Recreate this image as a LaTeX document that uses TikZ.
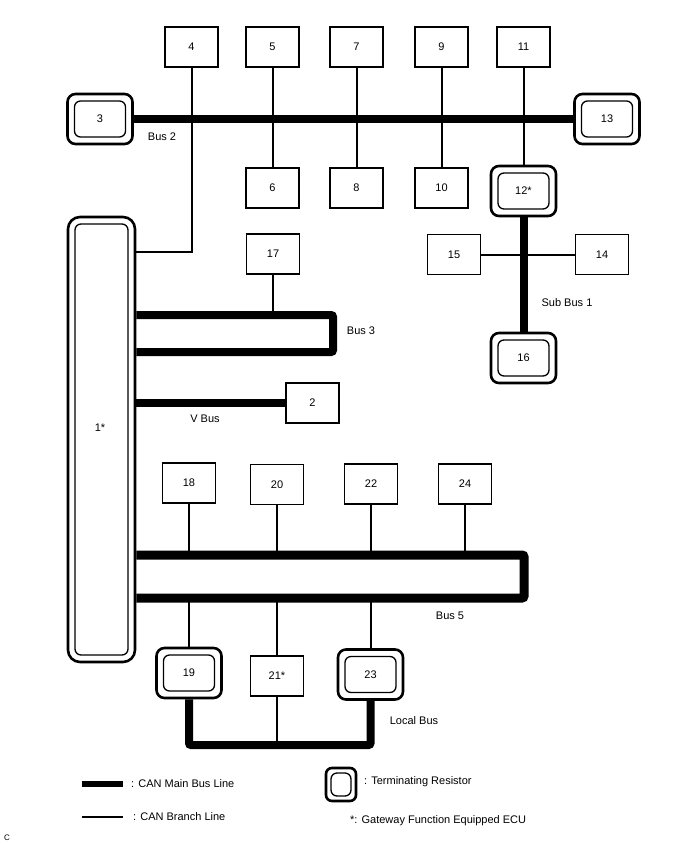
\documentclass[tikz,border=0pt]{standalone}
\usepackage{fontspec}
\setmainfont{Liberation Sans}
\usetikzlibrary{calc}

\tikzset{
  ecu/.style={draw, line width=1.6pt, minimum width=53pt, minimum height=40pt, inner sep=0pt},
  termecu/.style={draw, line width=2.6pt, rounded corners=8pt, minimum width=65pt, minimum height=50pt, inner sep=0pt,
    path picture={\draw[line width=1.3pt, rounded corners=6pt]
      ([shift={(#1,#1)}]path picture bounding box.south west) rectangle
      ([shift={(-#1,-#1)}]path picture bounding box.north east);}},
  termecu/.default=7pt,
  mainbus/.style={line width=8pt},
  branch/.style={line width=2pt},
  buslabel/.style={inner sep=0pt},
}

\begin{document}
\begin{tikzpicture}[x=1pt,y=-1pt,font=\fontsize{11}{13}\selectfont]
  \useasboundingbox (0,0) rectangle (688,852);

  % ECUs
  \node[termecu, minimum width=67pt, minimum height=445pt, rounded corners=12pt] (e1) at (101.5,439.5) {};
  \node (t1) at (100,428) {1*};
  \node[ecu] (e2) at (312.5,403) {2};
  \node[termecu] (e3) at (100,119) {3};
  \node[ecu] (e4) at (191.5,47) {4};
  \node[ecu] (e5) at (272.5,47) {5};
  \node[ecu] (e6) at (272.5,188) {6};
  \node[ecu] (e7) at (356.5,47) {7};
  \node[ecu] (e8) at (356.5,188) {8};
  \node[ecu] (e9) at (441.5,47) {9};
  \node[ecu] (e10) at (441.5,188) {10};
  \node[ecu] (e11) at (523.5,47) {11};
  \node[termecu] (e12) at (523.5,191) {12*};
  \node[termecu] (e13) at (607,119) {13};
  \node[ecu] (e14) at (602,254.5) {14};
  \node[ecu] (e15) at (454,254.5) {15};
  \node[termecu] (e16) at (523.5,358) {16};
  \node[ecu] (e17) at (273,254) {17};
  \node[ecu] (e18) at (189,483) {18};
  \node[termecu] (e19) at (189,673) {19};
  \node[ecu] (e20) at (277,484.5) {20};
  \node[ecu] (e21) at (277,676) {21*};
  \node[ecu] (e22) at (371,484) {22};
  \node[termecu] (e23) at (370.5,674.5) {23};
  \node[ecu] (e24) at (465,484) {24};

  % bus corners
  \coordinate (j4) at (e1.east |- 0,252);
  \coordinate (b3a) at (e1.east |- 0,315);
  \coordinate (b3b) at (333,315);
  \coordinate (b3c) at (333,352);
  \coordinate (b3d) at (e1.east |- 0,352);
  \coordinate (b5a) at (e1.east |- 0,555);
  \coordinate (b5b) at (524,555);
  \coordinate (b5c) at (524,598);
  \coordinate (b5d) at (e1.east |- 0,598);
  \coordinate (lb) at (277,745);

  % branch lines
  \draw[branch] (e4.south) |- (j4);
  \draw[branch] (e5) -- (e6);
  \draw[branch] (e7) -- (e8);
  \draw[branch] (e9) -- (e10);
  \draw[branch] (e11) -- (e12);
  \draw[branch] (e15) -- (e14);
  \draw[branch] (e17.south) -- (e17.south |- b3a);
  \foreach \n in {18,20,22,24}
    \draw[branch] (e\n.south) -- (e\n.south |- b5a);
  \foreach \n in {19,21,23}
    \draw[branch] (e\n.north) -- (e\n.north |- b5d);
  \draw[branch] (e21) -- (lb);

  % main bus lines
  \draw[mainbus] (e3) -- (e13);
  \draw[mainbus] (e12) -- (e16);
  \draw[mainbus, rounded corners=2pt] (b3a) -- (b3b) -- (b3c) -- (b3d);
  \draw[mainbus] (e1.east |- e2) -- (e2.west);
  \draw[mainbus, line width=9pt, rounded corners=2pt] (b5a) -- (b5b) -- (b5c) -- (b5d);
  \draw[mainbus, rounded corners=2pt] (e19.south) |- (lb) -| (e23.south);

  % bus names
  \node[buslabel] (l2) at (162,137) {Bus 2};
  \node[buslabel] (l3) at (361,331) {Bus 3};
  \node[buslabel] (lv) at (205,419) {V Bus};
  \node[buslabel] (ls1) at (567,303) {Sub Bus 1};
  \node[buslabel] (l5) at (450,616) {Bus 5};
  \node[buslabel] (lloc) at (414,721) {Local Bus};

  % legend
  \coordinate (k1a) at (82,784);
  \coordinate (k1b) at (123,784);
  \coordinate (k2a) at (82,817);
  \coordinate (k2b) at (123,817);
  \draw[line width=6pt] (k1a) -- (k1b);
  \draw[branch] (k2a) -- (k2b);
  \node[anchor=west, inner sep=0pt] (k1) at (131,784) {: CAN Main Bus Line};
  \node[anchor=west, inner sep=0pt] (k2) at (133,817) {: CAN Branch Line};
  \node[termecu=5pt, minimum width=30pt, minimum height=33pt, rounded corners=6pt] (k3s) at (341,784.5) {};
  \node[anchor=west, inner sep=0pt] (k3) at (364,782) {: Terminating Resistor};
  \node[anchor=west, inner sep=0pt] (k4) at (350,821) {*: Gateway Function Equipped ECU};
  \node[font=\fontsize{8}{10}\selectfont] (code) at (7,838) {C};
\end{tikzpicture}
\end{document}
